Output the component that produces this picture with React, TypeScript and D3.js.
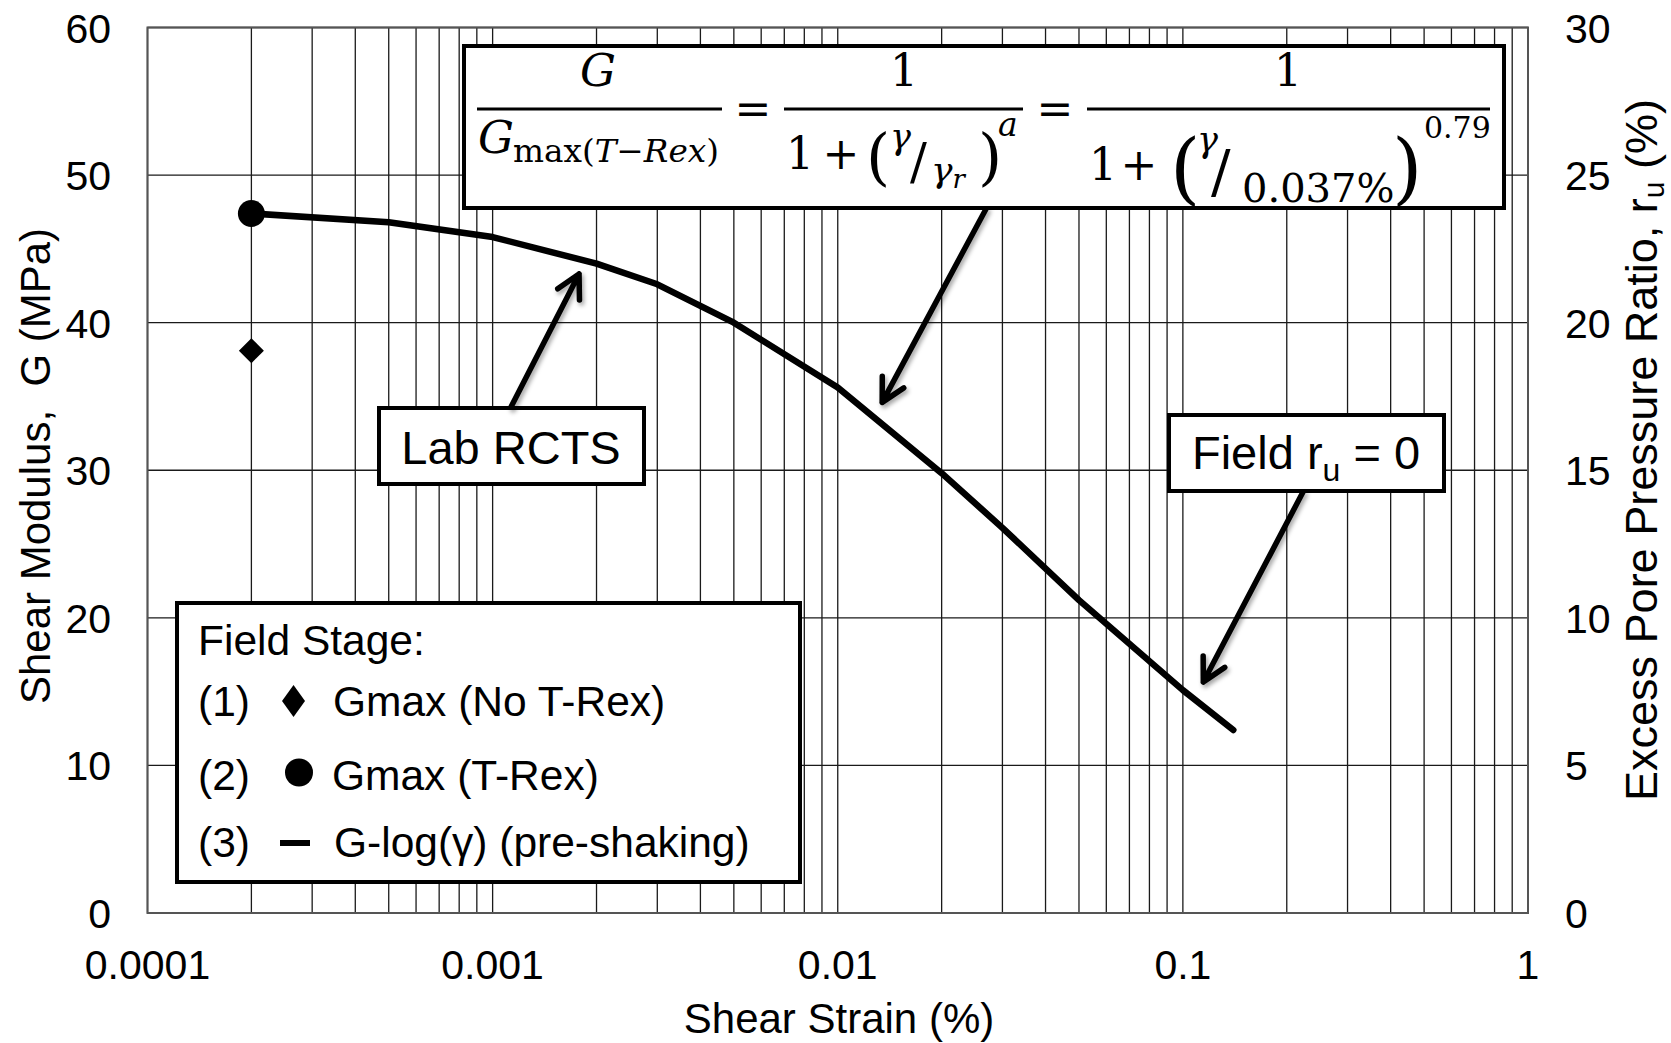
import React from 'react';
import * as d3 from 'd3';

// G–log(γ) curve (pre-shaking), shear strain in %, shear modulus in MPa
const strainPct = [0.0002, 0.0005, 0.001, 0.002, 0.003, 0.005, 0.01, 0.02, 0.03, 0.05, 0.1, 0.14];
const shearModulus = [47.4, 46.8, 45.8, 44.0, 42.6, 40.0, 35.6, 29.8, 26.1, 21.2, 15.1, 12.4];

// Field stage Gmax points
const gmaxNoTRexStrain = [0.0002];
const gmaxNoTRexValue = [38.1];
const gmaxTRexStrain = [0.0002];
const gmaxTRexValue = [47.4];

const xTickValues = [0.0001, 0.001, 0.01, 0.1, 1];
const xTickLabels = ['0.0001', '0.001', '0.01', '0.1', '1'];
const leftTicks = [0, 10, 20, 30, 40, 50, 60];
const rightTicks = [0, 5, 10, 15, 20, 25, 30];

// annotation arrow tips, in data units (strain %, G MPa)
const labArrowTip = [0.00178, 43.3];
const eqArrowTip = [0.01345, 34.6];
const fieldArrowTip = [0.1146, 15.65];

const W = 1671;
const H = 1043;
const L = 147.5;
const R = 1528;
const T = 27.5;
const B = 913;

const SANS = '"Liberation Sans", Arial, sans-serif';
const SERIF = '"DejaVu Serif", "Liberation Serif", serif';

function arrowD(x1: number, y1: number, x2: number, y2: number, len = 26, ang = 28) {
  const a = Math.atan2(y1 - y2, x1 - x2);
  const r = (ang * Math.PI) / 180;
  const p1 = [x2 + len * Math.cos(a + r), y2 + len * Math.sin(a + r)];
  const p2 = [x2 + len * Math.cos(a - r), y2 + len * Math.sin(a - r)];
  return `M${x1},${y1}L${x2},${y2}M${p1[0]},${p1[1]}L${x2},${y2}L${p2[0]},${p2[1]}`;
}

export default function App() {
  const x = d3.scaleLog().domain([1e-4, 1]).range([L, R]);
  const yL = d3.scaleLinear().domain([0, 60]).range([B, T]);
  const yR = d3.scaleLinear().domain([0, 30]).range([B, T]);

  const vGrid: number[] = [];
  for (let e = -4; e < 0; e++) {
    for (let k = 1; k <= 9; k++) vGrid.push(k * Math.pow(10, e));
  }
  vGrid.push(1);

  const line = d3
    .line<number>()
    .x((_, i) => x(strainPct[i]))
    .y((d) => yL(d));

  const diamond = (cx: number, cy: number, hw: number, hh: number) =>
    `M${cx},${cy - hh}L${cx + hw},${cy}L${cx},${cy + hh}L${cx - hw},${cy}Z`;

  const labTip = [x(labArrowTip[0]), yL(labArrowTip[1])];
  const eqTip = [x(eqArrowTip[0]), yL(eqArrowTip[1])];
  const fieldTip = [x(fieldArrowTip[0]), yL(fieldArrowTip[1])];

  return (
    <svg
      width={W}
      height={H}
      viewBox={`0 0 ${W} ${H}`}
      style={{ position: 'absolute', left: 0, top: 0, background: '#fff' }}
    >
      <defs>
        <filter id="arrowShadow" x="-30%" y="-30%" width="160%" height="160%">
          <feDropShadow dx="2" dy="3" stdDeviation="2.2" floodColor="#000" floodOpacity="0.35" />
        </filter>
      </defs>
      <rect x={0} y={0} width={W} height={H} fill="#fff" />

      {/* grid */}
      <g stroke="#1a1a1a" strokeWidth={1.3}>
        {vGrid.map((v, i) => (
          <line key={'v' + i} x1={x(v)} x2={x(v)} y1={T} y2={B} />
        ))}
        {leftTicks.map((v) => (
          <line key={'h' + v} x1={L} x2={R} y1={yL(v)} y2={yL(v)} />
        ))}
      </g>
      <rect x={L} y={T} width={R - L} height={B - T} fill="none" stroke="#555" strokeWidth={2} />

      {/* tick labels */}
      <g fontFamily={SANS} fontSize={41} fill="#000">
        {leftTicks.map((v) => (
          <text key={'l' + v} x={111} y={yL(v) + 15} textAnchor="end">
            {v}
          </text>
        ))}
        {rightTicks.map((v) => (
          <text key={'r' + v} x={1565} y={yR(v) + 15} textAnchor="start">
            {v}
          </text>
        ))}
        {xTickValues.map((v, i) => (
          <text key={'x' + v} x={x(v)} y={979} textAnchor="middle">
            {xTickLabels[i]}
          </text>
        ))}
      </g>

      {/* axis titles */}
      <g fontFamily={SANS} fill="#000">
        <text x={839} y={1033} fontSize={42} textAnchor="middle">
          Shear Strain (%)
        </text>
        <text
          transform="translate(50,466) rotate(-90)"
          fontSize={42}
          textAnchor="middle"
          style={{ whiteSpace: 'pre' }}
        >
          {'Shear Modulus,  G (MPa)'}
        </text>
        <text transform="translate(1657,450) rotate(-90)" fontSize={45} textAnchor="middle">
          Excess Pore Pressure Ratio, r
          <tspan fontSize={30} dy={7}>
            u
          </tspan>
          <tspan dy={-7}> (%)</tspan>
        </text>
      </g>

      {/* G-log(γ) curve */}
      <path
        d={line(shearModulus) || ''}
        fill="none"
        stroke="#000"
        strokeWidth={6.5}
        strokeLinejoin="round"
        strokeLinecap="round"
      />
      {gmaxTRexStrain.map((s, i) => (
        <circle key={'c' + i} cx={x(s)} cy={yL(gmaxTRexValue[i])} r={13.5} fill="#000" />
      ))}
      {gmaxNoTRexStrain.map((s, i) => (
        <path key={'d' + i} d={diamond(x(s), yL(gmaxNoTRexValue[i]), 12.5, 12.5)} fill="#000" />
      ))}

      {/* equation box */}
      <g>
        <rect x={464} y={46} width={1040} height={162} fill="#fff" stroke="#000" strokeWidth={4} />
        <g fontFamily={SERIF} fill="#000">
          {/* G / Gmax(T-Rex) */}
          <text x={598} y={86} fontSize={45} fontStyle="italic" textAnchor="middle">
            G
          </text>
          <rect x={477} y={107.5} width={245} height={3} />
          <text x={478} y={153} fontSize={45} fontStyle="italic">
            G
          </text>
          <text x={513} y={162} fontSize={32} textLength={206} lengthAdjust="spacingAndGlyphs">
            max(
            <tspan fontStyle="italic">T</tspan>−<tspan fontStyle="italic">Rex</tspan>)
          </text>
          <text x={753} y={124} fontSize={44} textAnchor="middle">
            =
          </text>

          {/* 1 / (1 + (γ/γr)^a) */}
          <text x={904} y={86} fontSize={44} textAnchor="middle">
            1
          </text>
          <rect x={784} y={107.5} width={239} height={3} />
          <text x={786} y={169} fontSize={44}>
            1
          </text>
          <text x={841} y={169} fontSize={44} textAnchor="middle">
            +
          </text>
          <text x={866} y={178} fontSize={62}>
            (
          </text>
          <text x={890} y={149} fontSize={35} fontStyle="italic">
            γ
          </text>
          <text x={910} y={179} fontSize={50}>
            /
          </text>
          <text x={931} y={182} fontSize={36} fontStyle="italic">
            γ
            <tspan fontSize={26} dy={6}>
              r
            </tspan>
          </text>
          <text x={978} y={178} fontSize={62}>
            )
          </text>
          <text x={998} y={136} fontSize={33} fontStyle="italic">
            a
          </text>
          <text x={1055} y={124} fontSize={44} textAnchor="middle">
            =
          </text>

          {/* 1 / (1 + (γ/0.037%)^0.79) */}
          <text x={1288} y={86} fontSize={44} textAnchor="middle">
            1
          </text>
          <rect x={1087} y={107.5} width={403} height={3} />
          <text x={1089} y={180} fontSize={44}>
            1
          </text>
          <text x={1139} y={180} fontSize={44} textAnchor="middle">
            +
          </text>
          <text x={1170} y={195} fontSize={78}>
            (
          </text>
          <text x={1197} y={152} fontSize={35} fontStyle="italic">
            γ
          </text>
          <text x={1211} y={192} fontSize={58}>
            /
          </text>
          <text x={1242} y={202} fontSize={40}>
            0.037%
          </text>
          <text x={1392} y={195} fontSize={78}>
            )
          </text>
          <text x={1424} y={138} fontSize={30}>
            0.79
          </text>
        </g>
      </g>

      {/* Lab RCTS label */}
      <rect x={379} y={408} width={265} height={76} fill="#fff" stroke="#000" strokeWidth={4} />
      <text x={511} y={464} fontFamily={SANS} fontSize={47} textAnchor="middle">
        Lab RCTS
      </text>

      {/* Field ru = 0 label */}
      <rect x={1169} y={415} width={275} height={76} fill="#fff" stroke="#000" strokeWidth={4} />
      <text x={1306} y={469} fontFamily={SANS} fontSize={47} textAnchor="middle">
        Field r
        <tspan fontSize={32} dy={12}>
          u
        </tspan>
        <tspan dy={-12}> = 0</tspan>
      </text>

      {/* legend */}
      <rect x={177} y={603} width={623} height={279} fill="#fff" stroke="#000" strokeWidth={4} />
      <g fontFamily={SANS} fontSize={42.5} fill="#000">
        <text x={198} y={655}>
          Field Stage:
        </text>
        <text x={198} y={716}>
          (1)
        </text>
        <path d={diamond(293.5, 701, 11.5, 16)} />
        <text x={333} y={716}>
          Gmax (No T-Rex)
        </text>
        <text x={198} y={790}>
          (2)
        </text>
        <circle cx={299} cy={772.5} r={14} />
        <text x={332} y={790}>
          Gmax (T-Rex)
        </text>
        <text x={198} y={857}>
          (3)
        </text>
        <rect x={280} y={840} width={30} height={6} />
        <text x={334} y={857}>
          G-log(γ) (pre-shaking)
        </text>
      </g>

      {/* annotation arrows */}
      <g
        fill="none"
        stroke="#000"
        strokeWidth={5.5}
        strokeLinecap="round"
        strokeLinejoin="round"
        filter="url(#arrowShadow)"
      >
        <path d={arrowD(511, 407, labTip[0], labTip[1])} />
        <path d={arrowD(986, 209, eqTip[0], eqTip[1])} />
        <path d={arrowD(1303, 492, fieldTip[0], fieldTip[1])} />
      </g>
    </svg>
  );
}
